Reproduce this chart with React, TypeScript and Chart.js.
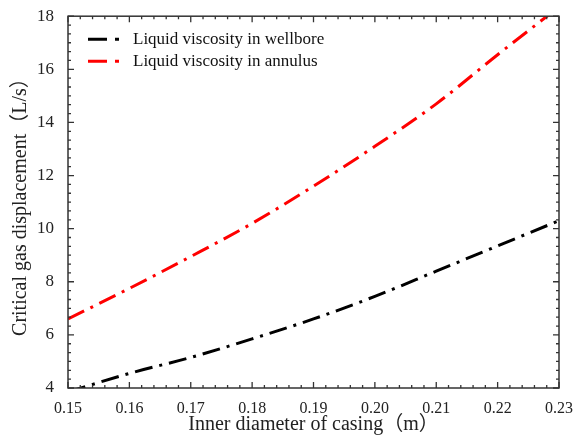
import React, { useEffect, useRef } from "react";
import { Chart, registerables } from "chart.js";

Chart.register(...registerables);

const diameters = [0.15, 0.16, 0.17, 0.18, 0.19, 0.2, 0.21, 0.22, 0.23];
const wellboreValues = [3.85, 4.55, 5.15, 5.85, 6.6, 7.45, 8.4, 9.35, 10.3];
const annulusValues = [6.6, 7.75, 8.95, 10.2, 11.6, 13.1, 14.7, 16.55, 18.35];
const seriesLabels = ["Liquid viscosity in wellbore", "Liquid viscosity in annulus"];
const xTitle = "Inner diameter of casing（m）";
const yTitle = "Critical gas displacement（L/s）";

const SERIF = "'Liberation Serif', 'Times New Roman', 'Noto Sans CJK SC', serif";
const DASH = [18, 7, 3, 7];

const framePlugin = {
  id: "frameTicks",
  afterDraw(chart: any) {
    const { ctx, chartArea: a, scales } = chart;
    const xs = scales.x;
    const ys = scales.y;
    ctx.save();
    ctx.strokeStyle = "#333";
    ctx.lineWidth = 1.5;
    ctx.strokeRect(a.left, a.top, a.right - a.left, a.bottom - a.top);
    ctx.lineWidth = 1.3;
    const xMin = xs.min, xMax = xs.max;
    const xStep = 0.01, xSub = 5;
    for (let i = 0; i <= Math.round((xMax - xMin) / xStep) * xSub; i++) {
      const v = xMin + (i * xStep) / xSub;
      const px = xs.getPixelForValue(v);
      const len = i % xSub === 0 ? 6 : 3;
      ctx.beginPath();
      ctx.moveTo(px, a.bottom);
      ctx.lineTo(px, a.bottom - len);
      ctx.moveTo(px, a.top);
      ctx.lineTo(px, a.top + len);
      ctx.stroke();
    }
    const yMin = ys.min, yMax = ys.max;
    const yStep = 2, ySub = 6;
    for (let i = 0; i <= Math.round((yMax - yMin) / yStep) * ySub; i++) {
      const v = yMin + (i * yStep) / ySub;
      const py = ys.getPixelForValue(v);
      const len = i % ySub === 0 ? 6 : 3;
      ctx.beginPath();
      ctx.moveTo(a.left, py);
      ctx.lineTo(a.left + len, py);
      ctx.moveTo(a.right, py);
      ctx.lineTo(a.right - len, py);
      ctx.stroke();
    }
    // legend
    const datasets = chart.data.datasets;
    datasets.forEach((ds: any, idx: number) => {
      const cy = a.top + 23 + idx * 22;
      const x0 = a.left + 20;
      ctx.strokeStyle = ds.borderColor;
      ctx.lineWidth = 3;
      ctx.setLineDash([]);
      ctx.beginPath();
      ctx.moveTo(x0, cy);
      ctx.lineTo(x0 + 19, cy);
      ctx.moveTo(x0 + 27, cy);
      ctx.lineTo(x0 + 31, cy);
      ctx.stroke();
      ctx.fillStyle = "#111";
      ctx.font = "17px " + SERIF;
      ctx.textBaseline = "middle";
      ctx.textAlign = "left";
      ctx.fillText(ds.label, x0 + 45, cy);
    });
    ctx.restore();
  },
};

export default function App() {
  const ref = useRef<HTMLCanvasElement>(null);
  useEffect(() => {
    document.body.style.margin = "0";
    const canvas = ref.current!;
    const chart = new Chart(canvas, {
      type: "line",
      data: {
        datasets: [
          {
            label: seriesLabels[0],
            data: diameters.map((d, i) => ({ x: d, y: wellboreValues[i] })),
            borderColor: "#000000",
            borderWidth: 3,
            borderDash: DASH,
            pointRadius: 0,
            cubicInterpolationMode: "monotone",
            fill: false,
          },
          {
            label: seriesLabels[1],
            data: diameters.map((d, i) => ({ x: d, y: annulusValues[i] })),
            borderColor: "#ff0000",
            borderWidth: 3,
            borderDash: DASH,
            pointRadius: 0,
            cubicInterpolationMode: "monotone",
            fill: false,
          },
        ],
      },
      options: {
        responsive: false,
        animation: false,
        devicePixelRatio: 1,
        layout: { padding: { top: 15, right: 16, left: 0, bottom: 0 } },
        plugins: { legend: { display: false }, tooltip: { enabled: false } },
        scales: {
          x: {
            type: "linear",
            min: 0.15,
            max: 0.23,
            grid: { display: false },
            border: { display: false },
            ticks: {
              stepSize: 0.01,
              padding: 3,
              color: "#222",
              font: { family: SERIF, size: 16 },
              maxRotation: 0,
              callback: (v: any) => Number(v).toFixed(2),
            },
            title: {
              display: true,
              text: xTitle,
              color: "#222",
              font: { family: SERIF, size: 20 },
              padding: { top: 0, bottom: 3 },
            },
            afterFit: (s: any) => {
              s.height = 52;
            },
          },
          y: {
            min: 4,
            max: 18,
            grid: { display: false },
            border: { display: false },
            ticks: {
              stepSize: 2,
              padding: 6,
              color: "#222",
              font: { family: SERIF, size: 17 },
            },
            title: {
              display: true,
              text: yTitle,
              color: "#222",
              font: { family: SERIF, size: 20 },
              padding: { top: 9, bottom: 0 },
            },
            afterFit: (s: any) => {
              s.width = 68;
            },
          },
        },
      } as any,
      plugins: [framePlugin],
    });
    return () => chart.destroy();
  }, []);
  return (
    <div style={{ position: "absolute", left: 0, top: 0, width: 576, height: 440, background: "#fff" }}>
      <canvas ref={ref} width={576} height={440} />
    </div>
  );
}
